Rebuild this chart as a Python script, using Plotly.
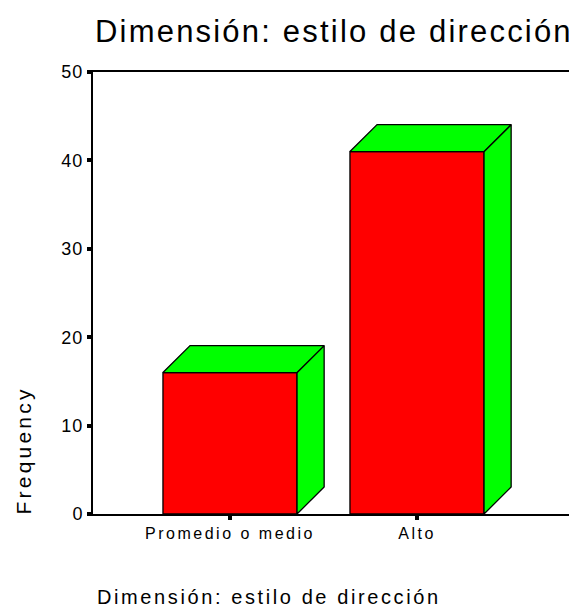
import plotly.graph_objects as go

# Frequency table for "Dimensión: estilo de dirección"
categories = ["Promedio o medio", "Alto"]
frequencies = [16, 41]
y_ticks = [0, 10, 20, 30, 40, 50]

title_text = "Dimensión: estilo de dirección"
y_title = "Frequency"

FRONT = "#FF0000"
SIDE = "#00FF00"
EDGE = "black"

BAR_W = 0.717     # bar width in category units
DEPTH_X = 0.145   # 3D depth offset, category units
DEPTH_Y = 3.05    # 3D depth offset, frequency units

FONT = "Arial, Liberation Sans, sans-serif"

W, H = 569, 612
L, R, T, B = 93, 0, 72, 98
plot_w = W - L - R
plot_h = H - T - B

pos = list(range(len(categories)))
px_per_cat = 187.0
x_lo = -(230 - L) / px_per_cat
x_hi = x_lo + plot_w / px_per_cat

fig = go.Figure()

# green top and side faces of each box, built from the bar values
for p, v in zip(pos, frequencies):
    xl, xr = p - BAR_W / 2, p + BAR_W / 2
    top_x = [xl, xl + DEPTH_X, xr + DEPTH_X, xr, xl]
    top_y = [v, v + DEPTH_Y, v + DEPTH_Y, v, v]
    side_x = [xr, xr + DEPTH_X, xr + DEPTH_X, xr, xr]
    side_y = [0, DEPTH_Y, v + DEPTH_Y, v, 0]
    for fx, fy in ((side_x, side_y), (top_x, top_y)):
        fig.add_trace(go.Scatter(
            x=fx, y=fy, mode="lines", fill="toself",
            fillcolor=SIDE, line=dict(color=EDGE, width=1.3),
            hoverinfo="skip", showlegend=False,
        ))

# red front faces
fig.add_trace(go.Bar(
    x=pos, y=frequencies, width=BAR_W,
    marker=dict(color=FRONT, line=dict(color=EDGE, width=1.3)),
    showlegend=False,
))

fig.update_layout(
    width=W, height=H,
    margin=dict(l=L, r=R, t=T, b=B, pad=0),
    paper_bgcolor="white", plot_bgcolor="white",
    font=dict(family=FONT, color="black"),
    title=dict(
        text=title_text, font=dict(size=31, color="black"),
        xref="container", x=95 / W, xanchor="left",
        yref="container", y=1 - 20 / H, yanchor="top",
    ),
    xaxis=dict(
        range=[x_lo, x_hi], tickmode="array", tickvals=pos, ticktext=categories,
        showgrid=False, zeroline=False,
        showline=True, linecolor="black", linewidth=2, mirror=True,
        ticks="outside", ticklen=4, tickwidth=4, tickcolor="black",
        tickfont=dict(size=16, color="black"),
    ),
    yaxis=dict(
        range=[0, 50], tickmode="array", tickvals=y_ticks,
        showgrid=False, zeroline=False,
        showline=True, linecolor="black", linewidth=2, mirror=False,
        ticks="outside", ticklen=4, tickwidth=4, tickcolor="black",
        tickfont=dict(size=18, color="black"),
    ),
    annotations=[
        dict(text=title_text, xref="paper", yref="paper",
             x=(268.5 - L) / plot_w, y=(514 - 597) / plot_h,
             xanchor="center", yanchor="middle", showarrow=False,
             font=dict(size=20, color="black")),
        dict(text=y_title, xref="paper", yref="paper",
             x=(23 - L) / plot_w, y=(514 - 450) / plot_h,
             xanchor="center", yanchor="middle", textangle=-90,
             showarrow=False, font=dict(size=21, color="black")),
    ],
)

# widen character spacing of the chart texts
spacing_css = """
var st = document.createElement('style');
st.textContent = '.gtitle{letter-spacing:2.2px}' +
  '.annotation[data-index="0"] .annotation-text{letter-spacing:2.6px}' +
  '.annotation[data-index="1"] .annotation-text{letter-spacing:3.2px}' +
  '.xtick text{letter-spacing:2.5px}' +
  '.ytick text{letter-spacing:1px}';
document.head.appendChild(st);
"""

fig.write_html("out.html", post_script=spacing_css)
